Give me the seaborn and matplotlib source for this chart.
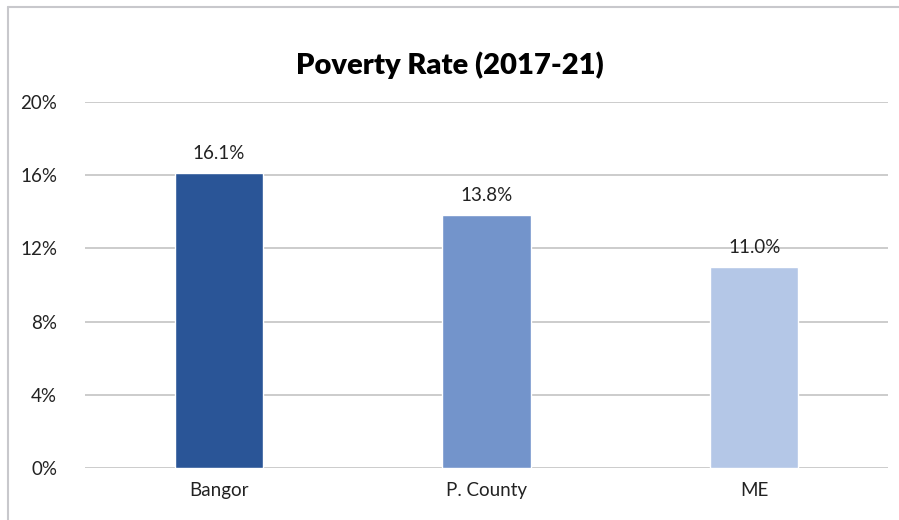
import matplotlib
matplotlib.use('Agg')
import matplotlib.pyplot as plt
import seaborn as sns
import pandas as pd
from matplotlib.lines import Line2D

# Dữ liệu
categories = ['Bangor', 'P. County', 'ME']
poverty_rate = [16.1, 13.8, 11.0]
bar_colors = ['#2A5597', '#7394CB', '#B4C7E7']
y_ticks = [0, 4, 8, 12, 16, 20]

df = pd.DataFrame({'area': categories, 'rate': poverty_rate})

sns.set_style('white')
plt.rcParams['font.family'] = ['Lato', 'DejaVu Sans']

fig = plt.figure(figsize=(8.99, 5.2), dpi=100)
ax = fig.add_axes([85 / 899, 52 / 520, 803 / 899, 366 / 520])

sns.barplot(data=df, x='area', y='rate', hue='area', palette=bar_colors,
            width=0.33, legend=False, ax=ax, saturation=1, zorder=3)

ax.set_ylim(0, 20)
ax.set_xlim(-0.5, 2.5)
ax.set_yticks(y_ticks)
ax.set_yticklabels([f'{t}%' for t in y_ticks], fontsize=13.5, color='#222222')
ax.tick_params(axis='x', labelsize=13.5, labelcolor='#222222', length=0, pad=10)
ax.tick_params(axis='y', length=0, pad=20)
ax.set_xlabel('')
ax.set_ylabel('')
ax.grid(axis='y', color='#C8C8C8', linewidth=1.3, zorder=0)
for s in ax.spines.values():
    s.set_visible(False)

for i, v in enumerate(poverty_rate):
    ax.annotate(f'{v:.1f}%', (i, v), xytext=(0, 8), textcoords='offset points',
                ha='center', va='bottom', fontsize=13.5, color='#222222')

fig.text(0.5, 1 - 65 / 520, 'Poverty Rate (2017-21)', ha='center', va='center',
         fontsize=21, fontweight='heavy', color='black')

# Khung viền bên trái và phía trên
fig.add_artist(Line2D([8 / 899, 8 / 899], [0, 1 - 7 / 520], transform=fig.transFigure,
                      color='#C8C8CC', linewidth=1.5))
fig.add_artist(Line2D([8 / 899, 1], [1 - 7 / 520, 1 - 7 / 520], transform=fig.transFigure,
                      color='#C8C8CC', linewidth=1.5))

fig.savefig('out.png', dpi=100)
